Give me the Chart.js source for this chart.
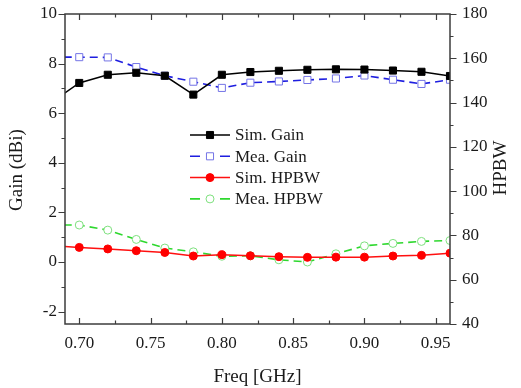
<!DOCTYPE html>
<html lang="en">
<head>
    <meta charset="UTF-8">
    <title>Gain and HPBW vs Frequency</title>
    <script src="https://cdn.jsdelivr.net/npm/chart.js"></script>
    <style>
        html, body { margin: 0; padding: 0; background: #fff; }
        #wrap { width: 521px; height: 388px; }
    </style>
</head>
<body>
    <div id="wrap"><canvas id="gainChart" width="521" height="388"></canvas></div>

    <script>
        // frequency points (GHz), first one sits just outside the visible range
        const freq = [0.68, 0.70, 0.72, 0.74, 0.76, 0.78, 0.80, 0.82, 0.84, 0.86, 0.88, 0.90, 0.92, 0.94, 0.96];

        // gain in dBi (left axis)
        const simGain = [6.42, 7.22, 7.55, 7.63, 7.51, 6.75, 7.55, 7.66, 7.71, 7.75, 7.77, 7.76, 7.72, 7.67, 7.50];
        const meaGain = [8.26, 8.26, 8.25, 7.86, 7.51, 7.27, 7.02, 7.23, 7.28, 7.34, 7.40, 7.52, 7.35, 7.18, 7.35];

        // HPBW in degrees (right axis)
        const simHPBW = [75.4, 74.6, 73.9, 73.1, 72.3, 70.7, 71.3, 70.8, 70.4, 70.1, 70.2, 70.2, 70.7, 71.0, 72.0];
        const meaHPBW = [84.7, 84.7, 82.4, 78.2, 74.3, 72.6, 70.6, 70.8, 69.0, 68.0, 71.7, 75.3, 76.4, 77.3, 77.7];

        // tick labels
        const xTicks = [0.70, 0.75, 0.80, 0.85, 0.90, 0.95];
        const gainTicks = [-2, 0, 2, 4, 6, 8, 10];
        const hpbwTicks = [40, 60, 80, 100, 120, 140, 160, 180];

        const serif = "'Liberation Serif', 'Times New Roman', serif";
        const axisColor = '#3c3c3c';

        const pts = (ys) => freq.map((f, i) => ({ x: f, y: ys[i] }));

        // frame, inward/outward tick marks, axis titles and legend
        const decor = {
            id: 'decor',
            afterDraw(chart) {
                const ctx = chart.ctx;
                const a = chart.chartArea;
                const sx = chart.scales.x, sy = chart.scales.y, sy2 = chart.scales.y2;
                ctx.save();
                ctx.strokeStyle = axisColor;
                ctx.lineWidth = 1.5;
                ctx.strokeRect(a.left, a.top, a.right - a.left, a.bottom - a.top);

                ctx.lineWidth = 1.2;
                ctx.beginPath();
                // x ticks: inward on bottom and top
                for (let i = 0; i <= 10; i++) {
                    const v = 0.70 + 0.025 * i;
                    const px = Math.round(sx.getPixelForValue(v)) + 0.5;
                    const len = i % 2 === 0 ? 6 : 3.5;
                    ctx.moveTo(px, a.bottom); ctx.lineTo(px, a.bottom - len);
                    ctx.moveTo(px, a.top); ctx.lineTo(px, a.top + len);
                }
                // left ticks: outward
                for (let v = -2; v <= 10; v++) {
                    const py = Math.round(sy.getPixelForValue(v)) + 0.5;
                    const len = v % 2 === 0 ? 6.5 : 3.5;
                    ctx.moveTo(a.left - len, py); ctx.lineTo(a.left, py);
                }
                // right ticks: outward
                for (let v = 40; v <= 180; v += 10) {
                    const py = Math.round(sy2.getPixelForValue(v)) + 0.5;
                    const len = v % 20 === 0 ? 6.5 : 3.5;
                    ctx.moveTo(a.right, py); ctx.lineTo(a.right + len, py);
                }
                ctx.stroke();

                // axis titles
                ctx.fillStyle = '#1a1a1a';
                ctx.font = '19px ' + serif;
                ctx.textAlign = 'center';
                ctx.textBaseline = 'middle';
                ctx.fillText('Freq [GHz]', (a.left + a.right) / 2, 377);
                ctx.save();
                ctx.translate(17.5, 170);
                ctx.rotate(-Math.PI / 2);
                ctx.fillText('Gain (dBi)', 0, 0);
                ctx.restore();
                ctx.save();
                ctx.translate(501, 168);
                ctx.rotate(-Math.PI / 2);
                ctx.fillText('HPBW', 0, 0);
                ctx.restore();

                // legend: line sample with marker in the middle
                ctx.font = '17px ' + serif;
                ctx.textAlign = 'left';
                chart.data.datasets.forEach((ds, i) => {
                    const y = 135 + i * 21.3;
                    ctx.save();
                    ctx.strokeStyle = ds.borderColor;
                    ctx.lineWidth = ds.borderWidth;
                    ctx.beginPath();
                    if (ds.borderDash) {
                        ctx.moveTo(190, y); ctx.lineTo(200, y);
                        ctx.moveTo(220, y); ctx.lineTo(230, y);
                    } else {
                        ctx.moveTo(190, y); ctx.lineTo(230, y);
                    }
                    ctx.stroke();
                    ctx.fillStyle = ds.pointBackgroundColor;
                    ctx.strokeStyle = ds.pointBorderColor;
                    ctx.lineWidth = ds.pointBorderWidth;
                    Chart.helpers.drawPoint(ctx, {
                        pointStyle: ds.pointStyle,
                        radius: ds.pointRadius,
                        borderWidth: ds.pointBorderWidth,
                        rotation: 0
                    }, 210, y);
                    ctx.restore();
                    ctx.fillStyle = '#1a1a1a';
                    ctx.fillText(ds.label, 235, y + 1);
                });
                ctx.restore();
            }
        };

        const tickFont = { family: serif, size: 17 };

        new Chart(document.getElementById('gainChart'), {
            type: 'line',
            data: {
                datasets: [
                    {
                        label: 'Sim. Gain',
                        data: pts(simGain),
                        yAxisID: 'y',
                        borderColor: '#000000',
                        borderWidth: 1.5,
                        pointStyle: 'rect',
                        pointRadius: 5,
                        pointBorderWidth: 1,
                        pointBackgroundColor: '#000000',
                        pointBorderColor: '#000000'
                    },
                    {
                        label: 'Mea. Gain',
                        data: pts(meaGain),
                        yAxisID: 'y',
                        borderColor: '#1e1ee0',
                        borderWidth: 1.6,
                        borderDash: [8, 5],
                        pointStyle: 'rect',
                        pointRadius: 5,
                        pointBorderWidth: 1,
                        pointBackgroundColor: '#ffffff',
                        pointBorderColor: '#7474e6'
                    },
                    {
                        label: 'Sim. HPBW',
                        data: pts(simHPBW),
                        yAxisID: 'y2',
                        borderColor: '#ff1010',
                        borderWidth: 1.5,
                        pointStyle: 'circle',
                        pointRadius: 4,
                        pointBorderWidth: 1,
                        pointBackgroundColor: '#ff0000',
                        pointBorderColor: '#ff0000'
                    },
                    {
                        label: 'Mea. HPBW',
                        data: pts(meaHPBW),
                        yAxisID: 'y2',
                        borderColor: '#2ed82e',
                        borderWidth: 1.6,
                        borderDash: [8, 5],
                        pointStyle: 'circle',
                        pointRadius: 4,
                        pointBorderWidth: 1,
                        pointBackgroundColor: '#ffffff',
                        pointBorderColor: '#7ee07e'
                    }
                ]
            },
            options: {
                responsive: false,
                animation: false,
                layout: { padding: { top: 14, left: 0, right: 0, bottom: 0 } },
                plugins: {
                    legend: { display: false },
                    tooltip: { enabled: false }
                },
                elements: { line: { tension: 0 } },
                scales: {
                    x: {
                        type: 'linear',
                        min: 0.69,
                        max: 0.96,
                        afterBuildTicks: (s) => { s.ticks = xTicks.map(v => ({ value: v })); },
                        afterFit: (s) => { s.height = 64; s.paddingLeft = 0; s.paddingRight = 0; },
                        ticks: {
                            callback: (v) => Number(v).toFixed(2),
                            font: tickFont,
                            color: '#1a1a1a',
                            padding: 9,
                            autoSkip: false,
                            maxRotation: 0
                        },
                        grid: { display: false, drawTicks: false, tickLength: 0 },
                        border: { display: false }
                    },
                    y: {
                        position: 'left',
                        min: -2.5,
                        max: 10,
                        afterBuildTicks: (s) => { s.ticks = gainTicks.map(v => ({ value: v })); },
                        afterFit: (s) => { s.width = 65; s.paddingTop = 0; s.paddingBottom = 0; },
                        ticks: { font: tickFont, color: '#1a1a1a', padding: 8 },
                        grid: { display: false, drawTicks: false, tickLength: 0 },
                        border: { display: false }
                    },
                    y2: {
                        position: 'right',
                        min: 40,
                        max: 180,
                        afterBuildTicks: (s) => { s.ticks = hpbwTicks.map(v => ({ value: v })); },
                        afterFit: (s) => { s.width = 71; s.paddingTop = 0; s.paddingBottom = 0; },
                        ticks: { font: tickFont, color: '#1a1a1a', padding: 12 },
                        grid: { display: false, drawTicks: false, tickLength: 0 },
                        border: { display: false }
                    }
                }
            },
            plugins: [decor]
        });
    </script>
</body>
</html>
